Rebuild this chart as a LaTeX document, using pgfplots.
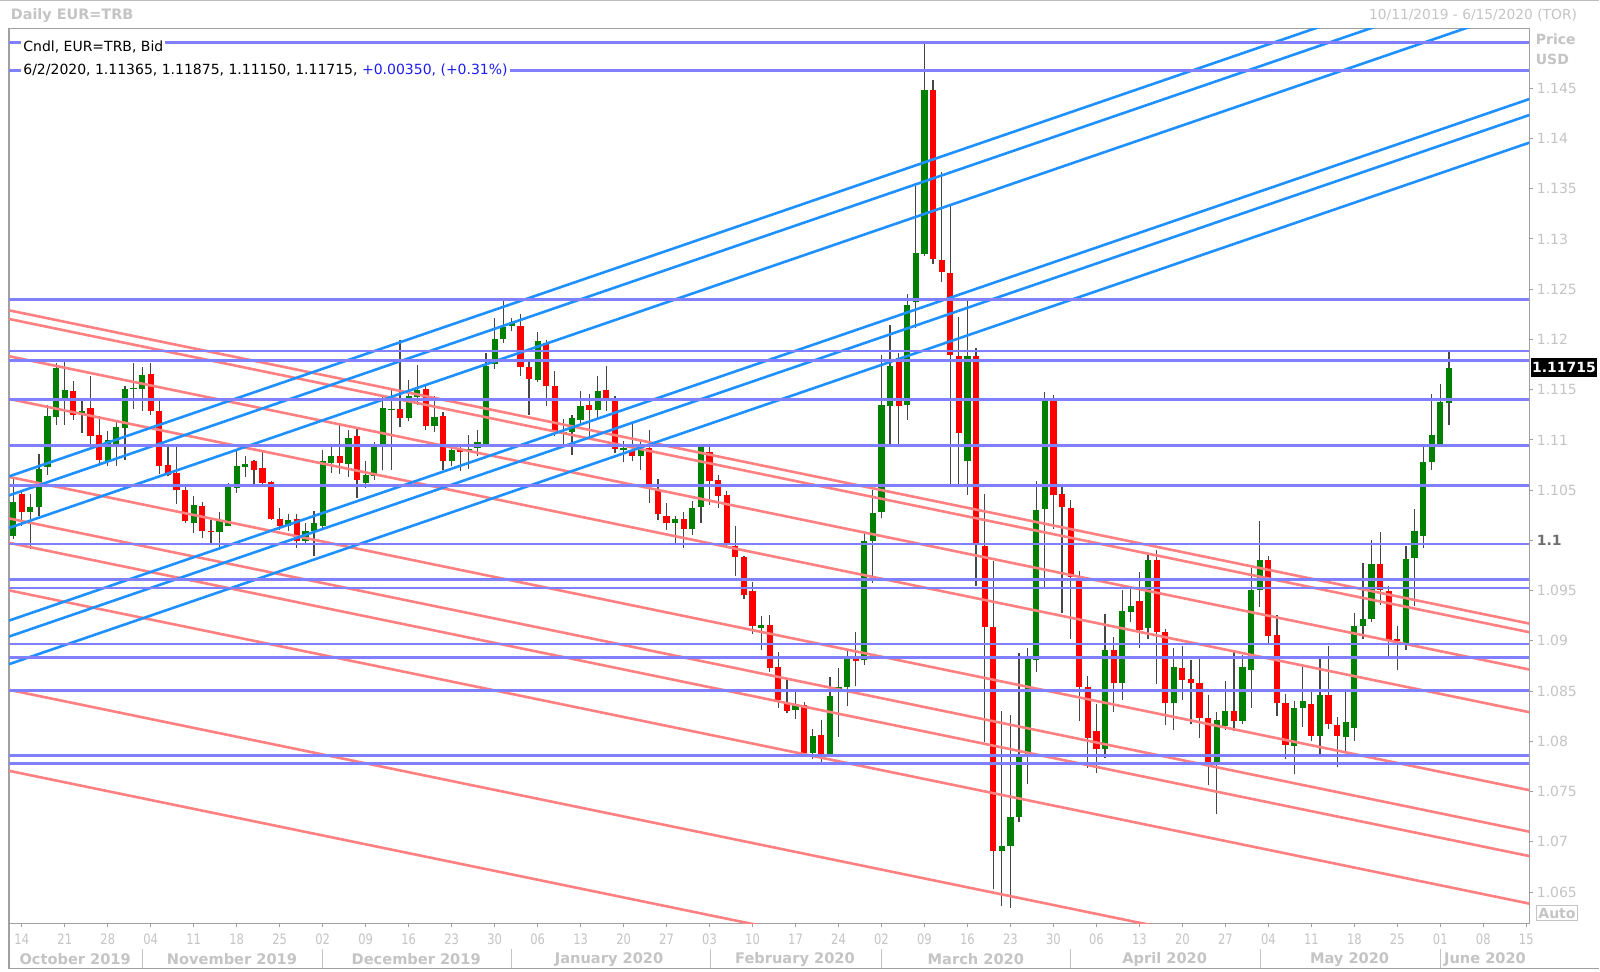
\documentclass[border=0pt]{standalone}
\usepackage{pgfplots}
\pgfplotsset{compat=1.18}
\usepackage{pgfplotstable}
\usepackage{fontspec}
\setmainfont{DejaVu Sans}

\definecolor{upc}{RGB}{0,128,0}
\definecolor{dnc}{RGB}{255,0,0}
\definecolor{wickc}{RGB}{70,70,70}
\definecolor{hblue}{RGB}{128,128,255}
\definecolor{sblue}{RGB}{30,144,255}
\definecolor{sred}{RGB}{255,128,128}
\definecolor{txtgray}{RGB}{196,196,196}
\definecolor{dgray}{RGB}{110,110,110}
\definecolor{framegray}{RGB}{160,160,160}
\definecolor{legblue}{RGB}{30,30,240}
\newcommand{\fs}[1]{\fontsize{#1}{#1}\selectfont}
\newcommand{\dl}[1]{\scalebox{0.8}[1]{#1}}

% up candles: index (trading day, 0 = 14 Oct 2019), open, high, low, close
\pgfplotstableread{
i o h l c
-1 1.10041 1.10621 1.10014 1.10379
1 1.10280 1.10465 1.09915 1.10333
2 1.10329 1.10863 1.10246 1.10711
3 1.10730 1.11350 1.10654 1.11241
4 1.11228 1.11765 1.11152 1.11715
5 1.11417 1.11771 1.11152 1.11493
7 1.11244 1.11383 1.11069 1.11284
10 1.10787 1.11085 1.10744 1.11002
11 1.10952 1.11195 1.10744 1.11128
12 1.11118 1.11533 1.10803 1.11506
13 1.11510 1.11765 1.11307 1.11520
14 1.11506 1.11725 1.11284 1.11649
20 1.10174 1.10439 1.10074 1.10356
23 1.10080 1.10280 1.09902 1.10200
24 1.10147 1.10571 1.10140 1.10538
25 1.10522 1.10896 1.10472 1.10737
26 1.10727 1.10843 1.10631 1.10760
31 1.10140 1.10260 1.10090 1.10200
33 1.09991 1.10174 1.09975 1.10090
34 1.10090 1.10290 1.09842 1.10174
35 1.10147 1.10900 1.10124 1.10790
36 1.10770 1.10930 1.10671 1.10840
38 1.10760 1.11095 1.10631 1.11019
40 1.10571 1.10790 1.10522 1.10654
41 1.10638 1.10975 1.10604 1.10930
42 1.10952 1.11433 1.10704 1.11317
43 1.11294 1.11500 1.10704 1.11307
45 1.11218 1.11592 1.11185 1.11440
46 1.11427 1.11748 1.11350 1.11500
48 1.11135 1.11440 1.11075 1.11228
50 1.10787 1.10962 1.10737 1.10903
52 1.10890 1.11052 1.10710 1.10909
53 1.10920 1.11102 1.10837 1.10976
54 1.10962 1.11864 1.10952 1.11732
55 1.11758 1.12212 1.11705 1.12003
56 1.12003 1.12378 1.11964 1.12123
57 1.12129 1.12212 1.12080 1.12162
60 1.11592 1.12070 1.11573 1.11980
63 1.11068 1.11208 1.10953 1.11078
64 1.11075 1.11251 1.10853 1.11218
65 1.11194 1.11483 1.11168 1.11340
67 1.11294 1.11639 1.11218 1.11483
70 1.10896 1.10986 1.10777 1.10920
72 1.10837 1.10986 1.10704 1.10910
76 1.10174 1.10246 1.09975 1.10213
78 1.10114 1.10389 1.10058 1.10323
79 1.10333 1.10962 1.10174 1.10930
86 1.09126 1.09252 1.08914 1.09159
90 1.08311 1.08500 1.08218 1.08357
92 1.07886 1.08125 1.07820 1.08058
94 1.07870 1.08642 1.07860 1.08456
95 1.08489 1.08731 1.08045 1.08542
96 1.08542 1.08914 1.08350 1.08820
98 1.08814 1.10067 1.08764 1.09999
99 1.09990 1.10500 1.09580 1.10270
100 1.10280 1.11848 1.10220 1.11344
101 1.11340 1.12146 1.10953 1.11732
103 1.11350 1.12454 1.11200 1.12345
104 1.12368 1.13528 1.12113 1.12859
105 1.12852 1.14954 1.12826 1.14480
110 1.10787 1.12378 1.10450 1.11838
114 1.06905 1.08304 1.06361 1.06954
115 1.06961 1.08267 1.06342 1.07243
116 1.07243 1.08882 1.07194 1.07869
117 1.07869 1.08930 1.07580 1.08818
118 1.08807 1.10593 1.08695 1.10300
119 1.10308 1.11482 1.09531 1.11388
126 1.07926 1.09272 1.07836 1.08907
128 1.08576 1.09510 1.08410 1.09302
129 1.09285 1.09517 1.09186 1.09351
131 1.09130 1.09850 1.09020 1.09810
134 1.08377 1.08930 1.08118 1.08741
139 1.07793 1.08290 1.07273 1.08217
140 1.08151 1.08599 1.08118 1.08300
142 1.08200 1.08864 1.08168 1.08741
143 1.08715 1.09726 1.08334 1.09510
144 1.09510 1.10190 1.09338 1.09809
148 1.07952 1.08400 1.07671 1.08334
149 1.08334 1.08741 1.08145 1.08400
151 1.08052 1.08854 1.07870 1.08466
154 1.08045 1.08499 1.07903 1.08191
155 1.08135 1.09278 1.08002 1.09153
156 1.09153 1.09776 1.09020 1.09219
157 1.09219 1.10000 1.09186 1.09769
161 1.08974 1.09948 1.08914 1.09816
162 1.09826 1.10313 1.09345 1.10091
163 1.10048 1.10929 1.09925 1.10777
164 1.10777 1.11460 1.10697 1.11052
165 1.10963 1.11559 1.10963 1.11374
166 1.11365 1.11875 1.11150 1.11715
}\upcandles

% down candles
\pgfplotstableread{
i o h l c
0 1.10465 1.10500 1.10141 1.10280
6 1.11483 1.11582 1.11201 1.11251
8 1.11317 1.11632 1.10953 1.11042
9 1.11052 1.11241 1.10737 1.10797
15 1.11659 1.11765 1.11251 1.11284
16 1.11284 1.11383 1.10664 1.10744
17 1.10754 1.10930 1.10638 1.10654
18 1.10671 1.10930 1.10366 1.10498
19 1.10505 1.10538 1.10174 1.10190
21 1.10346 1.10379 1.10024 1.10090
22 1.10097 1.10207 1.09975 1.10080
27 1.10790 1.10800 1.10555 1.10704
28 1.10720 1.10900 1.10555 1.10571
29 1.10578 1.10588 1.10207 1.10213
30 1.10213 1.10320 1.10107 1.10140
32 1.10213 1.10260 1.09925 1.09991
37 1.10840 1.11152 1.10664 1.10770
39 1.11035 1.11108 1.10422 1.10598
44 1.11307 1.11997 1.11128 1.11218
47 1.11506 1.11550 1.11102 1.11135
49 1.11234 1.11274 1.10704 1.10787
51 1.10903 1.10930 1.10687 1.10880
58 1.12136 1.12255 1.11639 1.11725
59 1.11725 1.11798 1.11251 1.11606
61 1.11960 1.11990 1.11334 1.11533
62 1.11540 1.11682 1.11035 1.11085
66 1.11350 1.11460 1.11035 1.11294
68 1.11500 1.11732 1.11284 1.11417
69 1.11383 1.11433 1.10870 1.10910
71 1.10903 1.11168 1.10787 1.10843
73 1.10920 1.11102 1.10372 1.10555
74 1.10512 1.10611 1.10207 1.10266
75 1.10240 1.10372 1.10107 1.10174
77 1.10213 1.10280 1.09925 1.10114
80 1.10876 1.10962 1.10356 1.10588
81 1.10604 1.10654 1.10323 1.10439
82 1.10455 1.10488 1.09925 1.09968
83 1.09948 1.10147 1.09643 1.09835
84 1.09835 1.09840 1.09418 1.09460
85 1.09494 1.09583 1.09073 1.09146
87 1.09159 1.09262 1.08688 1.08731
88 1.08741 1.08894 1.08334 1.08416
89 1.08383 1.08615 1.08284 1.08301
91 1.08357 1.08390 1.07870 1.07886
93 1.08068 1.08211 1.07793 1.07870
97 1.08820 1.09086 1.08549 1.08798
102 1.11814 1.11870 1.10953 1.11340
106 1.14480 1.14582 1.12753 1.12799
107 1.12793 1.13670 1.12567 1.12676
108 1.12666 1.13349 1.10555 1.11848
109 1.11838 1.12222 1.10565 1.11069
111 1.11838 1.11913 1.09550 1.09970
112 1.09944 1.10461 1.07993 1.09137
113 1.09137 1.09794 1.06530 1.06905
120 1.11388 1.11444 1.10113 1.10450
121 1.10465 1.10544 1.09278 1.10333
122 1.10323 1.10399 1.09020 1.09636
123 1.09626 1.09693 1.08201 1.08542
124 1.08542 1.08649 1.07737 1.08035
125 1.08102 1.08367 1.07687 1.07926
127 1.08907 1.09040 1.08291 1.08576
130 1.09394 1.09683 1.08930 1.09113
132 1.09810 1.09902 1.08566 1.09086
133 1.09086 1.09120 1.08158 1.08383
135 1.08731 1.08953 1.08410 1.08615
136 1.08625 1.08808 1.08168 1.08576
137 1.08576 1.08854 1.08035 1.08234
138 1.08234 1.08466 1.07561 1.07793
141 1.08300 1.08887 1.08101 1.08200
145 1.09809 1.09840 1.08980 1.09053
146 1.09063 1.09262 1.08257 1.08383
147 1.08383 1.08476 1.07820 1.07959
150 1.08367 1.08499 1.08002 1.08058
152 1.08466 1.08954 1.08125 1.08168
153 1.08158 1.08244 1.07747 1.08058
158 1.09769 1.10080 1.09361 1.09504
159 1.09494 1.09550 1.08854 1.09013
160 1.09023 1.09153 1.08708 1.08997
}\dncandles

\begin{document}
\begin{tikzpicture}[x=0.5pt,y=-0.5pt]
\fill[white] (0,0) rectangle (1600,972);
\begin{axis}[
  at={(4.25pt,-462pt)}, anchor=south west,
  scale only axis, width=760.75pt, height=447.85pt,
  xmin=-1.488, xmax=175.37, ymin=1.061887, ymax=1.15097,
  axis line style={draw=framegray, line width=0.6pt},
  tick align=outside, major tick length=2pt,
  major tick style={draw=framegray, line width=0.5pt},
  xtick pos=bottom, ytick pos=right, yticklabel pos=right,
  xtick={0,5,...,175},
  xticklabels={\dl{14},\dl{21},\dl{28},\dl{04},\dl{11},\dl{18},\dl{25},\dl{02},\dl{09},\dl{16},\dl{23},\dl{30},\dl{06},\dl{13},\dl{20},\dl{27},\dl{03},\dl{10},\dl{17},\dl{24},\dl{02},\dl{09},\dl{16},\dl{23},\dl{30},\dl{06},\dl{13},\dl{20},\dl{27},\dl{04},\dl{11},\dl{18},\dl{25},\dl{01},\dl{08},\dl{15}},
  xticklabel style={font=\fs{7.2pt}, text=txtgray, anchor=north, inner sep=0pt, yshift=-3pt},
  ytick={1.065,1.07,1.075,1.08,1.085,1.09,1.095,1.1,1.105,1.11,1.115,1.12,1.125,1.13,1.135,1.14,1.145},
  yticklabels={1.065,1.07,1.075,1.08,1.085,1.09,1.095,{\bfseries\color{dgray}1.1},1.105,1.11,1.115,1.12,1.125,1.13,1.135,1.14,1.145},
  yticklabel style={font=\fs{7pt}, text=txtgray, anchor=west, inner sep=0pt, xshift=1.5pt},
  clip=true,
]
% wicks
\addplot[forget plot, draw=none, mark=none, error bars/.cd, y dir=plus, y explicit, error mark=none,
  error bar style={draw=wickc, line width=0.6pt}]
  table[x=i, y=l, y error plus expr=\thisrow{h}-\thisrow{l}] {\upcandles};
\addplot[forget plot, draw=none, mark=none, error bars/.cd, y dir=plus, y explicit, error mark=none,
  error bar style={draw=wickc, line width=0.6pt}]
  table[x=i, y=l, y error plus expr=\thisrow{h}-\thisrow{l}] {\dncandles};
% bodies
\addplot[forget plot, draw=none, mark=none, error bars/.cd, y dir=plus, y explicit, error mark=none,
  error bar style={draw=upc, line width=3.1pt}]
  table[x=i, y=o, y error plus expr=\thisrow{c}-\thisrow{o}] {\upcandles};
\addplot[forget plot, draw=none, mark=none, error bars/.cd, y dir=plus, y explicit, error mark=none,
  error bar style={draw=dnc, line width=3.1pt}]
  table[x=i, y=c, y error plus expr=\thisrow{o}-\thisrow{c}] {\dncandles};

% red down-sloping trend lines
\addplot[sred, line width=1.3pt] coordinates {(-1.488,1.12290) (175.37,1.09172)};
\addplot[sred, line width=1.3pt] coordinates {(-1.488,1.12204) (175.37,1.09086)};
\addplot[sred, line width=1.3pt] coordinates {(-1.488,1.11833) (175.37,1.08715)};
\addplot[sred, line width=1.3pt] coordinates {(-1.488,1.11408) (175.37,1.08290)};
\addplot[sred, line width=1.3pt] coordinates {(-1.488,1.10632) (175.37,1.07514)};
\addplot[sred, line width=1.3pt] coordinates {(-1.488,1.10219) (175.37,1.07101)};
\addplot[sred, line width=1.3pt] coordinates {(-1.488,1.09976) (175.37,1.06858)};
\addplot[sred, line width=1.3pt] coordinates {(-1.488,1.09503) (175.37,1.06385)};
\addplot[sred, line width=1.3pt] coordinates {(-1.488,1.08513) (175.37,1.05395)};
\addplot[sred, line width=1.3pt] coordinates {(-1.488,1.07707) (175.37,1.04589)};
% blue up-sloping trend lines
\addplot[sblue, line width=1.3pt] coordinates {(-1.488,1.10637) (175.37,1.15828)};
\addplot[sblue, line width=1.3pt] coordinates {(-1.488,1.10448) (175.37,1.15639)};
\addplot[sblue, line width=1.3pt] coordinates {(-1.488,1.10124) (175.37,1.15315)};
\addplot[sblue, line width=1.3pt] coordinates {(-1.488,1.09202) (175.37,1.14393)};
\addplot[sblue, line width=1.3pt] coordinates {(-1.488,1.09043) (175.37,1.14234)};
\addplot[sblue, line width=1.3pt] coordinates {(-1.488,1.08768) (175.37,1.13959)};
% horizontal levels
\addplot[hblue, line width=1.3pt] coordinates {(-1.488,1.14957) (175.37,1.14957)};
\addplot[hblue, line width=1.3pt] coordinates {(-1.488,1.14675) (175.37,1.14675)};
\addplot[hblue, line width=1.3pt] coordinates {(-1.488,1.12395) (175.37,1.12395)};
\addplot[hblue, line width=1.3pt] coordinates {(-1.488,1.11887) (175.37,1.11887)};
\addplot[hblue, line width=1.3pt] coordinates {(-1.488,1.11788) (175.37,1.11788)};
\addplot[hblue, line width=1.3pt] coordinates {(-1.488,1.11400) (175.37,1.11400)};
\addplot[hblue, line width=1.3pt] coordinates {(-1.488,1.10946) (175.37,1.10946)};
\addplot[hblue, line width=1.3pt] coordinates {(-1.488,1.10545) (175.37,1.10545)};
\addplot[hblue, line width=1.3pt] coordinates {(-1.488,1.09965) (175.37,1.09965)};
\addplot[hblue, line width=1.3pt] coordinates {(-1.488,1.09610) (175.37,1.09610)};
\addplot[hblue, line width=1.3pt] coordinates {(-1.488,1.09527) (175.37,1.09527)};
\addplot[hblue, line width=1.3pt] coordinates {(-1.488,1.08970) (175.37,1.08970)};
\addplot[hblue, line width=1.3pt] coordinates {(-1.488,1.08837) (175.37,1.08837)};
\addplot[hblue, line width=1.3pt] coordinates {(-1.488,1.08509) (175.37,1.08509)};
\addplot[hblue, line width=1.3pt] coordinates {(-1.488,1.07860) (175.37,1.07860)};
\addplot[hblue, line width=1.3pt] coordinates {(-1.488,1.07780) (175.37,1.07780)};
\end{axis}

% frame extras
\draw[framegray!70, line width=0.5pt] (0,0.5) -- (1600,0.5);
\draw[framegray, line width=0.6pt] (8.5,924) -- (8.5,969.5) -- (1600,969.5);
\foreach \sx in {141.8,322.4,511.7,710.2,881.6,1070.4,1260.7,1441.3}
  \draw[txtgray, line width=0.5pt] (\sx,950) -- (\sx,969);

% titles
\node[anchor=west, text=txtgray, font=\fs{7.2pt}\bfseries, inner sep=0pt] at (10,15.5) {Daily EUR=TRB};
\node[anchor=east, text=txtgray, font=\fs{6.9pt}, inner sep=0pt] at (1578,15.5) {10/11/2019 - 6/15/2020 (TOR)};

% legend text
\node[anchor=west, fill=white, inner xsep=1pt, inner ysep=0.5pt, font=\fs{7pt}] at (20.5,47.5) {Cndl, EUR=TRB, Bid};
\node[anchor=west, fill=white, inner xsep=1pt, inner ysep=0.5pt, font=\fs{7pt}] at (20.5,70) {6/2/2020, 1.11365, 1.11875, 1.11150, 1.11715, {\color{legblue}+0.00350, (+0.31\%)}};

% right side labels
\node[anchor=west, text=txtgray, font=\fs{7pt}\bfseries, inner sep=0pt] at (1536,39) {Price};
\node[anchor=west, text=txtgray, font=\fs{7pt}\bfseries, inner sep=0pt] at (1536,59) {USD};
\node[anchor=west, fill=black, text=white, font=\fs{7pt}\bfseries, inner xsep=0.6pt, inner ysep=0pt, minimum height=9.8pt] at (1531,367.7) {1.11715};
\node[anchor=west, draw=txtgray, line width=0.5pt, text=txtgray, font=\fs{7pt}\bfseries, inner xsep=1pt, inner ysep=1.2pt] at (1536.5,914) {Auto};

% month labels
\foreach \mx/\mt in {74.7/October 2019, 231.6/November 2019, 416/December 2019, 609/January 2020, 795/February 2020, 976/March 2020, 1165/April 2020, 1350/May 2020, 1485.5/June 2020}
  \node[text=txtgray, font=\fs{7.3pt}\bfseries, inner sep=0pt] at (\mx,960) {\mt};
\end{tikzpicture}
\end{document}
